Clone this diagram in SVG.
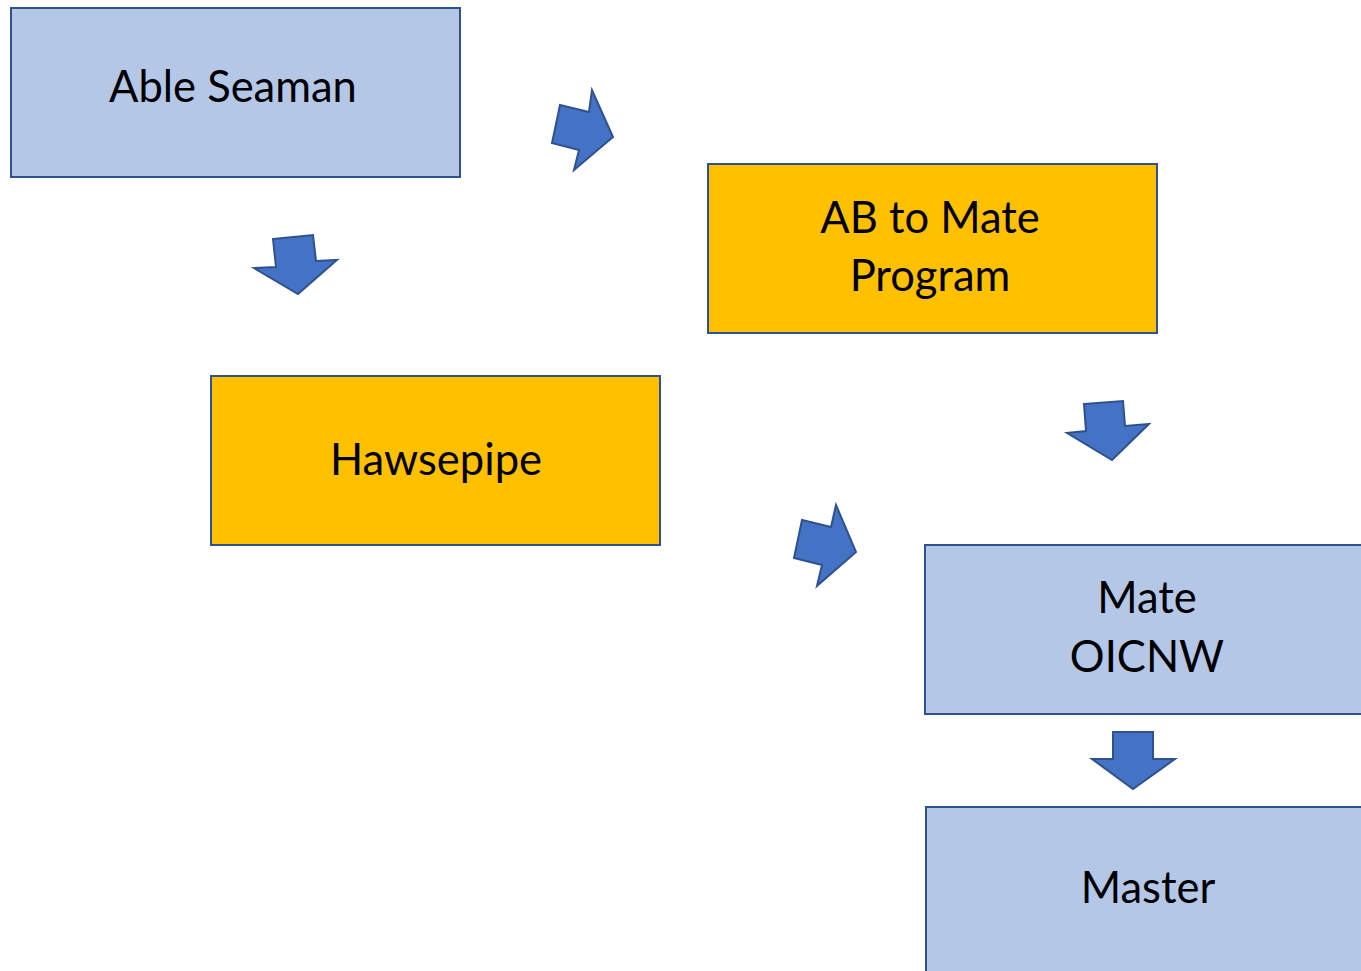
<svg xmlns="http://www.w3.org/2000/svg" width="1361" height="971" viewBox="0 0 1361 971">
<style>
.box{stroke:#2F528F;stroke-width:2}
.blue{fill:#B4C7E7}
.gold{fill:#FFC000}
.arr{fill:#4472C4;stroke:#2F528F;stroke-width:2;stroke-linejoin:miter}
text{font-family:"Lato","Open Sans","Liberation Sans",sans-serif;font-size:43.5px;fill:#000;text-anchor:middle}
</style>
<rect width="1361" height="971" fill="#fff"/>
<g id="able-seaman"><rect class="box blue" x="11" y="8" width="449" height="169"/><text x="233" y="102">Able Seaman</text></g>
<g id="ab-to-mate"><rect class="box gold" x="708" y="164" width="449" height="169"/><text x="930" y="233">AB to Mate</text><text x="930" y="291">Program</text></g>
<g id="hawsepipe"><rect class="box gold" x="211" y="376" width="449" height="169"/><text x="436" y="475">Hawsepipe</text></g>
<g id="mate-oicnw"><rect class="box blue" x="925" y="545" width="450" height="169"/><text x="1147" y="613">Mate</text><text x="1147" y="672">OICNW</text></g>
<g id="master"><rect class="box blue" x="926" y="807" width="450" height="180"/><text x="1148" y="903">Master</text></g>
<g id="connectors">
<polygon class="arr" points="560,105 589,112 592,90 613,137 574,170 579,150 552,143"/>
<polygon class="arr" points="273,239 313,235 316,261 337,260 298,294 254,268 276,267"/>
<polygon class="arr" points="802,520 831,527 836,505 856,552 817,586 822,565 794,558"/>
<polygon class="arr" points="1084,404 1123,401 1125,426 1149,424 1112,460 1067,433 1086,431"/>
<polygon class="arr" points="1113,732 1153,732 1153,759 1175,759 1133,789 1092,759 1113,759"/>
</g>
</svg>
